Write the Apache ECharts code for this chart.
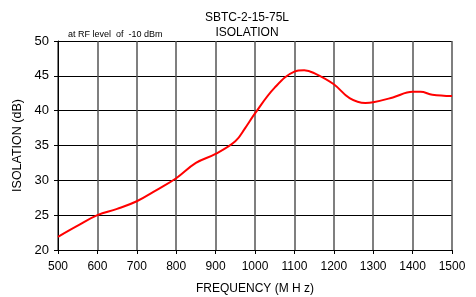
<!DOCTYPE html>
<html><head><meta charset="utf-8">
<script src="https://cdn.jsdelivr.net/npm/echarts@6/dist/echarts.min.js"></script>
<style>html,body{margin:0;padding:0;background:#fff}#c{width:476px;height:297px}</style>
</head><body><div id="c"></div>
<script>
const freq = [500,550,600,650,700,750,800,850,900,950,975,1000,1050,1100,1125,1150,1200,1240,1280,1300,1350,1400,1420,1450,1500];
const isolation = [21.9,23.5,25.0,25.9,27.0,28.6,30.3,32.5,33.8,35.6,37.5,39.6,43.3,45.6,45.8,45.4,43.8,41.8,41.1,41.2,41.9,42.7,42.7,42.3,42.1];
const titleLines = ['SBTC-2-15-75L','ISOLATION'];
const note = 'at RF level  of  -10 dBm';
const xName = 'FREQUENCY (M H z)';
const yName = 'ISOLATION (dB)';

const chart = echarts.init(document.getElementById('c'));
const font = 'Liberation Sans, Arial, sans-serif';
chart.setOption({
  animation:false,
  title:[
    {text:titleLines.join('\n'),left:242,top:5,textAlign:'center',textStyle:{fontFamily:font,fontSize:12,fontWeight:'normal',color:'#000',lineHeight:15}},
    {text:note,left:63,top:25,textStyle:{fontFamily:font,fontSize:9,fontWeight:'normal',color:'#000'}}
  ],
  grid:{left:58,right:24,top:41,bottom:47,outerBoundsMode:'none',containLabel:false},
  xAxis:{type:'value',min:500,max:1500,interval:100,
    name:xName,nameLocation:'middle',nameGap:33,nameTextStyle:{fontFamily:font,fontSize:12,color:'#000'},
    axisLine:{show:true,lineStyle:{color:'#000'}},axisTick:{show:true,length:4,lineStyle:{color:'#000'}},
    axisLabel:{fontFamily:font,fontSize:12,color:'#000',margin:11,formatter:v=>String(v)},
    splitLine:{show:true,lineStyle:{color:'#555',width:1.5}}},
  yAxis:{type:'value',min:20,max:50,interval:5,
    name:yName,nameLocation:'middle',nameGap:30,nameRotate:90,nameTextStyle:{fontFamily:font,fontSize:12.5,color:'#000'},
    axisLine:{show:true,lineStyle:{color:'#000'}},axisTick:{show:true,length:4,lineStyle:{color:'#000'}},
    axisLabel:{fontFamily:font,fontSize:13,color:'#000',margin:9},
    splitLine:{show:true,lineStyle:{color:'#000',width:1}}},
  series:[{type:'line',data:freq.map((f,i)=>[f,isolation[i]]),smooth:0.4,showSymbol:false,
    lineStyle:{color:'#ff0000',width:2}}]
});
</script></body></html>
